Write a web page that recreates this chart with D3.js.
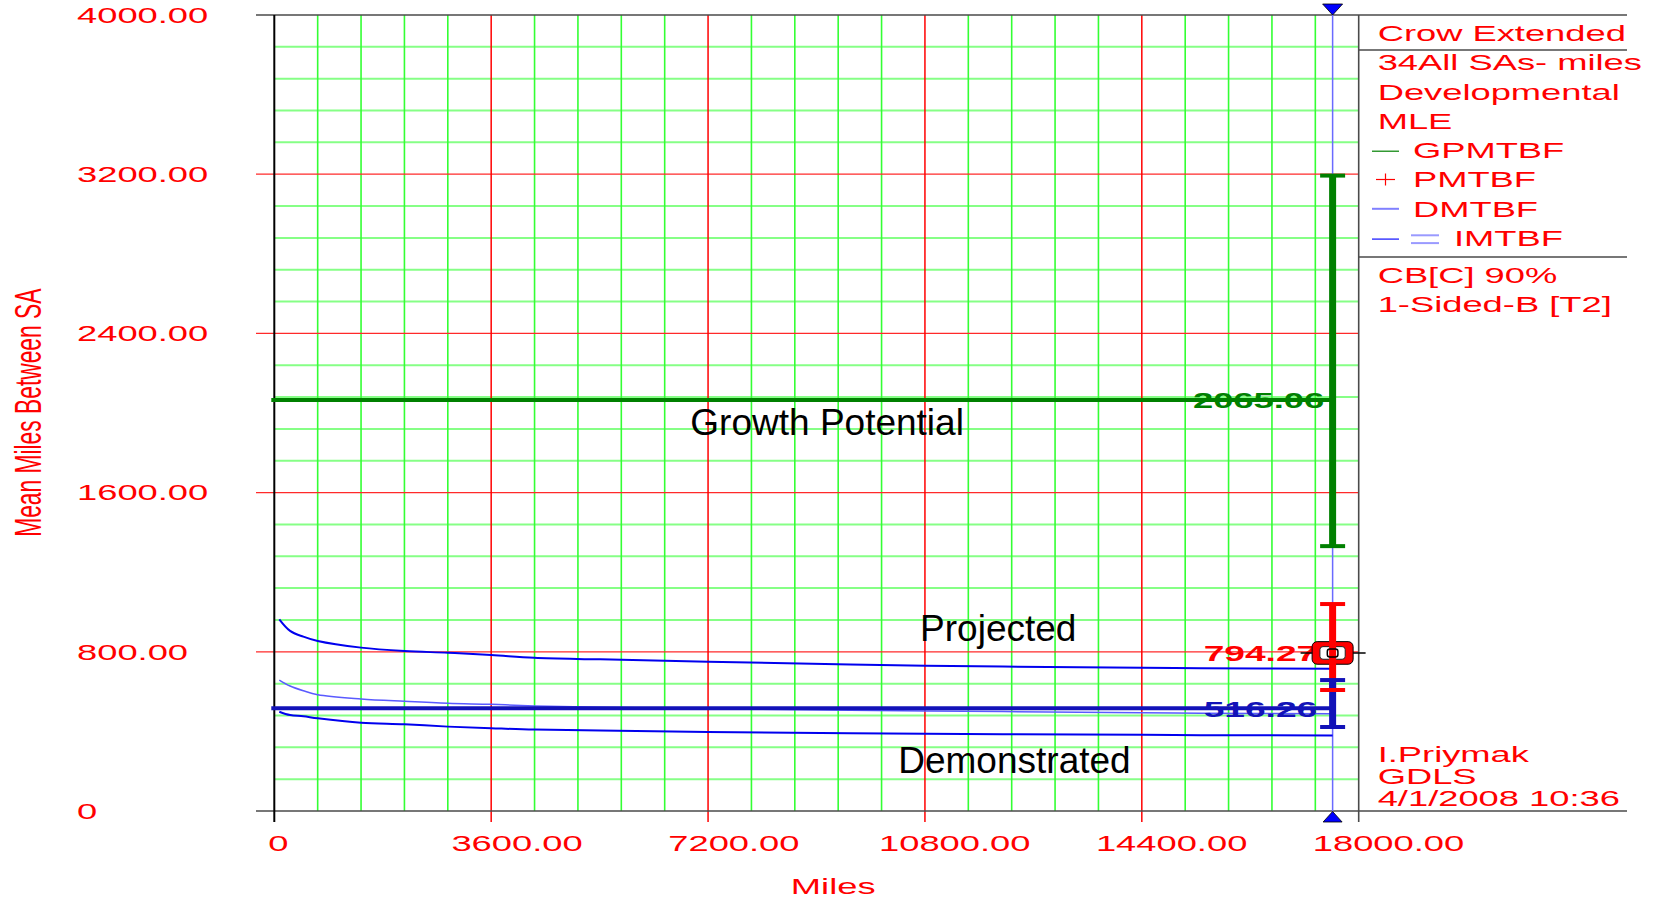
<!DOCTYPE html>
<html><head><meta charset="utf-8">
<script src="https://cdn.jsdelivr.net/npm/d3@7"></script>
<style>
html,body{margin:0;padding:0;background:#fff;overflow:hidden;}
svg{display:block;font-family:"Liberation Sans",Arial,sans-serif;}
</style></head><body>
<svg id="chart" width="1659" height="899"></svg>
<script>
// ---------------- data ----------------
const xTickValues = [0, 3600, 7200, 10800, 14400, 18000];
const xTickLabels = ["0", "3600.00", "7200.00", "10800.00", "14400.00", "18000.00"];
const yTickValues = [0, 800, 1600, 2400, 3200, 4000];
const yTickLabels = ["0", "800.00", "1600.00", "2400.00", "3200.00", "4000.00"];
const xMinorStep = 720;
const yMinorStep = 160;
const endMiles = 17567;
const gpmtbfValue = 2065.06;
const gpmtbfBounds = [1331, 3193];
const pmtbfValue = 794.27;
const pmtbfBounds = [608, 1040];
const dmtbfValue = 516.26;
const dmtbfBounds = [422, 658];
const curveMiles = [83, 262, 482, 721, 1440, 2160, 2881, 3600, 4314, 5411, 7200, 10810, 14415, 15378, 17567];
const upperCurve = [963, 905, 876, 854, 821, 804, 795, 784, 770, 762, 750, 730, 720, 717, 715];
const dmtbfCurve = [658, 628, 604, 584, 563, 551, 541, 536, 528, 521, 514, 503, 494, 491, 489];
const lowerCurve = [499, 482, 476, 466, 444, 436, 424, 416, 409, 404, 397, 388, 383, 381, 380];
const legendTitle = "Crow Extended";
const legendInfo = ["34All SAs- miles", "Developmental", "MLE"];
const legendSeries = ["GPMTBF", "PMTBF", "DMTBF", "IMTBF"];
const legendConfidence = ["CB[C] 90%", "1-Sided-B [T2]"];
const footerLines = ["I.Priymak", "GDLS", "4/1/2008 10:36"];
const annotationTexts = ["Growth Potential", "Projected", "Demonstrated"];
const annotationMiles = [6906, 10720, 10357];
const annotationValues = [1889, 856, 189];
const xTitle = "Miles";
const yTitle = "Mean Miles Between SA";

// ---------------- layout ----------------
const svg = d3.select("#chart");
const x = d3.scaleLinear().domain([0, 18000]).range([274.3, 1358.7]);
const y = d3.scaleLinear().domain([0, 4000]).range([811, 15]);
const SX = 1.65;
const RED = "#ff0000", DKGREEN = "#008000", DKBLUE = "#1212b8";
const frameRight = 1627, frameLeft = 256;

function stretched(g, txt, px, py, anchor, size, fill, weight) {
  const t = g.append("text").attr("x", px).attr("y", py)
    .attr("font-size", size).attr("fill", fill)
    .attr("font-weight", weight || "normal").text(txt);
  const w = t.node().getComputedTextLength();
  const sx = anchor === "middle" ? px - w / 2 : anchor === "end" ? px - w : px;
  t.attr("x", sx).attr("textLength", w * SX).attr("lengthAdjust", "spacingAndGlyphs");
  return t;
}

const [x0, x1] = x.range();
const [yb, yt] = y.range();

// grid
const grid = svg.append("g");
const xMinor = d3.range(xMinorStep, 18000, xMinorStep).filter(v => v % 3600 !== 0);
const yMinor = d3.range(yMinorStep, 4000, yMinorStep).filter(v => v % 800 !== 0);
grid.selectAll(".hg").data(yMinor).join("line")
  .attr("x1", x0).attr("x2", x1).attr("y1", d => y(d)).attr("y2", d => y(d))
  .attr("stroke", "#86ff86").attr("stroke-width", 2);
grid.selectAll(".vg").data(xMinor).join("line")
  .attr("x1", d => x(d)).attr("x2", d => x(d)).attr("y1", yt).attr("y2", yb)
  .attr("stroke", "#33ff33").attr("stroke-width", 1.6);
grid.selectAll(".hr").data(yTickValues.slice(1, -1)).join("line")
  .attr("x1", frameLeft).attr("x2", x1).attr("y1", d => y(d)).attr("y2", d => y(d))
  .attr("stroke", "#ff2a2a").attr("stroke-width", 1.3);
grid.selectAll(".vr").data(xTickValues.slice(1, -1)).join("line")
  .attr("x1", d => x(d)).attr("x2", d => x(d)).attr("y1", yt).attr("y2", yb + 11)
  .attr("stroke", RED).attr("stroke-width", 1.5);

// frame
const frame = svg.append("g").attr("stroke", "#4a4a4a").attr("stroke-width", 1.6);
frame.append("line").attr("x1", frameLeft).attr("x2", frameRight).attr("y1", yt).attr("y2", yt);
frame.append("line").attr("x1", frameLeft).attr("x2", frameRight).attr("y1", yb).attr("y2", yb);
frame.append("line").attr("x1", x1).attr("x2", x1).attr("y1", yt).attr("y2", yb + 11);
frame.append("line").attr("x1", x1).attr("x2", frameRight).attr("y1", 50).attr("y2", 50);
frame.append("line").attr("x1", x1).attr("x2", frameRight).attr("y1", 257).attr("y2", 257);
svg.append("line").attr("x1", x0).attr("x2", x0).attr("y1", yt).attr("y2", yb + 11)
  .attr("stroke", "#000").attr("stroke-width", 2);

// end-of-test vertical line
const xe = x(endMiles);
svg.append("line").attr("x1", xe).attr("x2", xe).attr("y1", yt).attr("y2", yb)
  .attr("stroke", "#6a6aff").attr("stroke-width", 1.5);

// curves
const line = d3.line().x(d => x(d[0])).y(d => y(d[1])).curve(d3.curveCatmullRom.alpha(0.5));
svg.append("path").datum(curveMiles.map((m, i) => [m, dmtbfCurve[i]])).attr("d", line)
  .attr("fill", "none").attr("stroke", "#5a5aff").attr("stroke-width", 1.5);
svg.append("path").datum(curveMiles.map((m, i) => [m, upperCurve[i]])).attr("d", line)
  .attr("fill", "none").attr("stroke", "#0000ee").attr("stroke-width", 2);
svg.append("path").datum(curveMiles.map((m, i) => [m, lowerCurve[i]])).attr("d", line)
  .attr("fill", "none").attr("stroke", "#0000ee").attr("stroke-width", 2);

// horizontal value lines
svg.append("line").attr("x1", x0 - 3).attr("x2", xe).attr("y1", y(gpmtbfValue)).attr("y2", y(gpmtbfValue))
  .attr("stroke", DKGREEN).attr("stroke-width", 4);
svg.append("line").attr("x1", x0 - 3).attr("x2", xe).attr("y1", y(dmtbfValue)).attr("y2", y(dmtbfValue))
  .attr("stroke", DKBLUE).attr("stroke-width", 4);

// error bars
function bar(bounds, color) {
  svg.append("line").attr("x1", xe).attr("x2", xe).attr("y1", y(bounds[0])).attr("y2", y(bounds[1]))
    .attr("stroke", color).attr("stroke-width", 7);
}
function caps(bounds, color) {
  bounds.forEach(b => svg.append("line").attr("x1", xe - 12.5).attr("x2", xe + 12.5)
    .attr("y1", y(b)).attr("y2", y(b)).attr("stroke", color).attr("stroke-width", 4));
}
bar(gpmtbfBounds, DKGREEN); caps(gpmtbfBounds, DKGREEN);

// value labels
stretched(svg, d3.format(".2f")(gpmtbfValue), 1272.5, y(gpmtbfValue) + 8, "end", 22, DKGREEN, "bold");
stretched(svg, d3.format(".2f")(pmtbfValue), 1272.5, y(pmtbfValue) + 8.5, "end", 22.5, RED, "bold");
stretched(svg, d3.format(".2f")(dmtbfValue), 1272.5, y(dmtbfValue) + 8.5, "end", 22.5, DKBLUE, "bold");

// projected marker
const ym = y(pmtbfValue);
svg.append("line").attr("x1", xe - 32).attr("x2", xe + 33).attr("y1", ym).attr("y2", ym)
  .attr("stroke", "#000").attr("stroke-width", 1.5);
svg.append("rect").attr("x", xe - 20.5).attr("y", ym - 11.3).attr("width", 41).attr("height", 22.6)
  .attr("rx", 5).attr("fill", RED).attr("stroke", "#000").attr("stroke-width", 1);
svg.append("rect").attr("x", xe - 12.7).attr("y", ym - 6.3).attr("width", 25.3).attr("height", 12.6)
  .attr("rx", 3).attr("fill", "#fff").attr("stroke", "#222").attr("stroke-width", 1);
bar(pmtbfBounds, RED);
bar(dmtbfBounds, DKBLUE); caps(dmtbfBounds, DKBLUE);
caps(pmtbfBounds, RED);
svg.append("rect").attr("x", xe - 5.3).attr("y", ym - 4).attr("width", 10.6).attr("height", 8)
  .attr("rx", 2.5).attr("fill", "none").attr("stroke", "#000").attr("stroke-width", 1.5);

// triangles
svg.append("path").attr("d", `M${xe - 10},4 L${xe + 10},4 L${xe},${yt} Z`)
  .attr("fill", "#0000ff").attr("stroke", "#000").attr("stroke-width", 0.8);
svg.append("path").attr("d", `M${xe - 9.5},${yb + 11} L${xe + 9.5},${yb + 11} L${xe},${yb + 0.5} Z`)
  .attr("fill", "#0000ff").attr("stroke", "#000").attr("stroke-width", 0.8);

// axis tick labels
const lab = svg.append("g");
yTickValues.forEach((v, i) => stretched(lab, yTickLabels[i], 77, y(v) + 7.8, "start", 22, RED));
xTickValues.forEach((v, i) => stretched(lab, xTickLabels[i], x(v), 851.3, "middle", 22, RED));

// axis titles
stretched(lab, xTitle, (x0 + x1) / 2, 893.5, "middle", 22, RED);
lab.append("text").attr("transform", `translate(41,412.7) scale(${SX},1) rotate(-90)`)
  .attr("text-anchor", "middle").attr("font-size", 22.8).attr("fill", RED).text(yTitle);

// annotations
annotationTexts.forEach((t, i) => svg.append("text")
  .attr("x", x(annotationMiles[i])).attr("y", y(annotationValues[i]))
  .attr("font-size", 37).attr("fill", "#000").text(t));

// legend
const lg = svg.append("g");
const rowY = k => 33 + 29.3 * k + 7.9;
stretched(lg, legendTitle, 1377.7, rowY(0), "start", 22, RED);
legendInfo.forEach((t, i) => stretched(lg, t, 1377.7, rowY(i + 1), "start", 22, RED));
legendSeries.forEach((t, i) => stretched(lg, t, i === 3 ? 1454 : 1413, rowY(i + 4), "start", 22, RED));
const cy = k => 33 + 29.3 * k;
lg.append("line").attr("x1", 1372).attr("x2", 1399).attr("y1", cy(4) + 1).attr("y2", cy(4) + 1)
  .attr("stroke", DKGREEN).attr("stroke-width", 1.2);
lg.append("line").attr("x1", 1376).attr("x2", 1395).attr("y1", cy(5)).attr("y2", cy(5))
  .attr("stroke", RED).attr("stroke-width", 1.2);
lg.append("line").attr("x1", 1385.5).attr("x2", 1385.5).attr("y1", cy(5) - 6).attr("y2", cy(5) + 6)
  .attr("stroke", RED).attr("stroke-width", 1.2);
lg.append("line").attr("x1", 1372).attr("x2", 1399).attr("y1", cy(6)).attr("y2", cy(6))
  .attr("stroke", "#8080ff").attr("stroke-width", 2);
lg.append("line").attr("x1", 1372).attr("x2", 1399).attr("y1", cy(7) + 1).attr("y2", cy(7) + 1)
  .attr("stroke", "#2020ff").attr("stroke-width", 1.3);
[-2.8, 5].forEach(o => lg.append("line").attr("x1", 1411).attr("x2", 1439)
  .attr("y1", cy(7) + o).attr("y2", cy(7) + o).attr("stroke", "#9a9aff").attr("stroke-width", 2));
legendConfidence.forEach((t, i) => stretched(lg, t, 1377.7, 282.5 + 29.3 * i, "start", 22, RED));
footerLines.forEach((t, i) => stretched(lg, t, 1377.7, 761.7 + 22.3 * i, "start", 22, RED));
</script>
</body></html>
